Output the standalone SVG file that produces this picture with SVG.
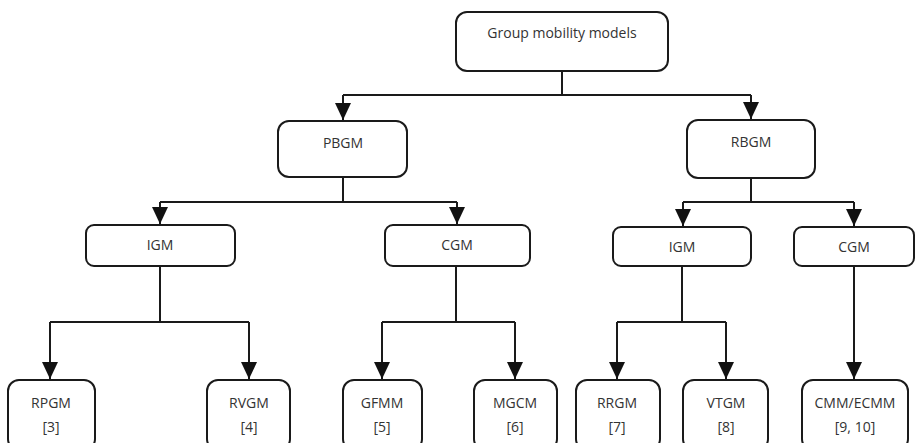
<svg xmlns="http://www.w3.org/2000/svg" width="917" height="443" viewBox="0 0 917 443">
<style>
.box{fill:#fff;stroke:#1a1a1a;stroke-width:2}
.t{font-family:"Open Sans","Liberation Sans",sans-serif;font-size:14px;fill:#333;text-anchor:middle}
.c{fill:none;stroke:#1a1a1a;stroke-width:2}
</style>
<defs>
<marker id="a" markerUnits="userSpaceOnUse" markerWidth="18" markerHeight="16" refX="17" refY="8" orient="auto" viewBox="0 0 18 16">
<path d="M0,0 L17,8 L0,16 Z" fill="#111"/>
</marker>
</defs>
<g id="connectors">
<path class="c" d="M562,71 V95 M343,95 H751"/>
<path class="c" d="M343,95 V120" marker-end="url(#a)"/>
<path class="c" d="M751,95 V119" marker-end="url(#a)"/>
<path class="c" d="M343,177 V202 M160,202 H457"/>
<path class="c" d="M160,202 V224" marker-end="url(#a)"/>
<path class="c" d="M457,202 V224" marker-end="url(#a)"/>
<path class="c" d="M751,178 V202 M683,202 H854"/>
<path class="c" d="M683,202 V226" marker-end="url(#a)"/>
<path class="c" d="M854,202 V226" marker-end="url(#a)"/>
<path class="c" d="M160,266 V322 M50,322 H249"/>
<path class="c" d="M50,322 V379" marker-end="url(#a)"/>
<path class="c" d="M249,322 V379" marker-end="url(#a)"/>
<path class="c" d="M456,266 V322 M382,322 H515"/>
<path class="c" d="M382,322 V379" marker-end="url(#a)"/>
<path class="c" d="M515,322 V379" marker-end="url(#a)"/>
<path class="c" d="M682,266 V322 M617,322 H726"/>
<path class="c" d="M617,322 V379" marker-end="url(#a)"/>
<path class="c" d="M726,322 V379" marker-end="url(#a)"/>
<path class="c" d="M854,266 V379" marker-end="url(#a)"/>
</g>
<g id="root"><rect class="box" x="456" y="12" width="212" height="59" rx="11"/><text class="t" x="562" y="38">Group mobility models</text></g>
<g id="pbgm"><rect class="box" x="278" y="121" width="129" height="56" rx="11"/><text class="t" x="343" y="148">PBGM</text></g>
<g id="rbgm"><rect class="box" x="687" y="120" width="128" height="58" rx="11"/><text class="t" x="751" y="147">RBGM</text></g>
<g id="igm1"><rect class="box" x="86" y="225" width="149" height="41" rx="8"/><text class="t" x="160" y="250">IGM</text></g>
<g id="cgm1"><rect class="box" x="385" y="225" width="145" height="41" rx="8"/><text class="t" x="457" y="250">CGM</text></g>
<g id="igm2"><rect class="box" x="613" y="227" width="138" height="39" rx="8"/><text class="t" x="682" y="252">IGM</text></g>
<g id="cgm2"><rect class="box" x="794" y="227" width="120" height="39" rx="8"/><text class="t" x="854" y="252">CGM</text></g>
<g id="rpgm"><rect class="box" x="8" y="380" width="87" height="70" rx="11"/><text class="t" x="51" y="408">RPGM</text><text class="t" x="51" y="432">[3]</text></g>
<g id="rvgm"><rect class="box" x="207" y="380" width="83" height="70" rx="11"/><text class="t" x="249" y="408">RVGM</text><text class="t" x="249" y="432">[4]</text></g>
<g id="gfmm"><rect class="box" x="343" y="380" width="79" height="70" rx="11"/><text class="t" x="382" y="408">GFMM</text><text class="t" x="382" y="432">[5]</text></g>
<g id="mgcm"><rect class="box" x="474" y="380" width="83" height="70" rx="11"/><text class="t" x="515" y="408">MGCM</text><text class="t" x="515" y="432">[6]</text></g>
<g id="rrgm"><rect class="box" x="576" y="380" width="84" height="70" rx="11"/><text class="t" x="617" y="408">RRGM</text><text class="t" x="617" y="432">[7]</text></g>
<g id="vtgm"><rect class="box" x="683" y="380" width="85" height="70" rx="11"/><text class="t" x="726" y="408">VTGM</text><text class="t" x="726" y="432">[8]</text></g>
<g id="cmm"><rect class="box" x="802" y="380" width="106" height="70" rx="11"/><text class="t" x="855" y="408">CMM/ECMM</text><text class="t" x="855" y="432">[9, 10]</text></g>
</svg>
